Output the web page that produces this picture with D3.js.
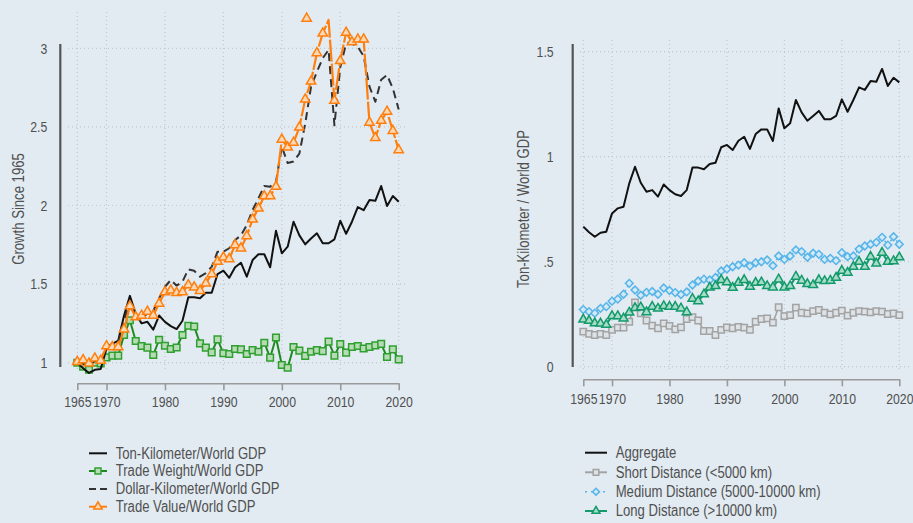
<!DOCTYPE html>
<html><head><meta charset="utf-8">
<script src="https://cdn.jsdelivr.net/npm/d3@7"></script>
<style>
html,body{margin:0;padding:0;background:#e2ebf2;}
svg{display:block;}
text{font-family:"Liberation Sans",Arial,sans-serif;fill:#505050;}
</style></head><body>
<svg id="c" width="913" height="523"></svg>
<script>
// ---------- DATA ----------
const years = d3.range(1965, 2021);
const xTickYears = [1965, 1970, 1980, 1990, 2000, 2010, 2020];

// Left panel: growth since 1965
const leftYTicks = [1, 1.5, 2, 2.5, 3];
const leftYTickLabels = ["1", "1.5", "2", "2.5", "3"];
const tonKm = [1.00,0.965,0.935,0.955,0.96,
  1.09,1.12,1.14,1.30,1.425,1.31,1.25,1.26,1.21,1.30,
  1.26,1.233,1.214,1.267,1.416,1.416,1.41,1.445,1.445,1.564,
  1.585,1.54,1.607,1.636,1.547,1.653,1.69,1.69,1.607,1.84,
  1.696,1.738,1.897,1.81,1.753,1.79,1.823,1.76,1.76,1.785,
  1.903,1.82,1.897,1.99,1.97,2.035,2.03,2.124,1.997,2.06,
  2.024];
const tradeWeight = [1.00,0.975,0.955,1.0,0.995,
  1.034,1.045,1.045,1.176,1.27,1.138,1.106,1.096,1.049,1.146,
  1.108,1.087,1.097,1.176,1.235,1.23,1.123,1.096,1.066,1.148,
  1.06,1.055,1.087,1.085,1.055,1.08,1.07,1.127,1.032,1.16,
  0.985,0.968,1.10,1.077,1.043,1.07,1.08,1.074,1.134,1.045,
  1.119,1.064,1.10,1.106,1.09,1.10,1.11,1.12,1.036,1.085,
  1.021];
const dollarKm = [1.0,0.99,0.985,1.01,1.01,
  1.10,1.12,1.13,1.27,1.39,1.30,1.29,1.31,1.33,1.41,
  1.483,1.526,1.49,1.515,1.594,1.585,1.547,1.57,1.61,1.706,
  1.706,1.728,1.78,1.81,1.876,1.971,2.046,2.124,2.12,2.15,
  2.374,2.27,2.28,2.33,2.52,2.756,2.85,2.937,2.99,2.51,
  2.88,3.03,3.03,3.01,2.95,2.756,2.66,2.80,2.83,2.745,
  2.61];
const tradeValue = [1.006,1.017,0.996,1.028,1.013,
  1.106,1.10,1.10,1.212,1.36,1.29,1.30,1.325,1.30,1.377,
  1.45,1.46,1.445,1.45,1.494,1.48,1.458,1.505,1.564,1.643,
  1.67,1.66,1.749,1.728,1.806,1.912,1.982,2.06,2.06,2.12,
  2.42,2.37,2.40,2.497,2.675,2.79,2.97,3.095,3.18,2.667,
  2.92,3.10,3.04,3.057,3.057,2.527,2.43,2.54,2.597,2.476,
  2.353];
const tradeValueNoMarker = [2008];
const tradeValueStray = [{year: 2004.25, value: 3.19}];

// Right panel: ton-km / world GDP by distance
const rightYTicks = [0, 0.5, 1, 1.5];
const rightYTickLabels = ["0", ".5", "1", "1.5"];
const aggregate = [0.667,0.64,0.619,0.638,0.643,
  0.73,0.754,0.762,0.873,0.952,0.876,0.833,0.841,0.81,0.868,
  0.841,0.821,0.813,0.841,0.948,0.948,0.94,0.965,0.971,1.045,
  1.056,1.032,1.076,1.095,1.037,1.108,1.13,1.13,1.075,1.23,
  1.135,1.159,1.27,1.211,1.171,1.194,1.218,1.178,1.178,1.194,
  1.273,1.214,1.27,1.33,1.318,1.36,1.357,1.418,1.337,1.376,
  1.354];
const shortDist = [0.167,0.156,0.151,0.156,0.151,
  0.175,0.186,0.186,0.214,0.306,0.254,0.22,0.196,0.183,0.206,
  0.194,0.178,0.187,0.227,0.236,0.22,0.17,0.17,0.151,0.175,
  0.187,0.183,0.19,0.186,0.175,0.214,0.227,0.23,0.21,0.283,
  0.241,0.246,0.281,0.257,0.254,0.265,0.27,0.257,0.249,0.257,
  0.267,0.243,0.257,0.265,0.262,0.259,0.265,0.262,0.251,0.254,
  0.246];
const mediumDist = [0.272,0.262,0.255,0.278,0.286,
  0.312,0.322,0.345,0.397,0.365,0.34,0.354,0.358,0.345,0.375,
  0.363,0.353,0.344,0.356,0.389,0.408,0.417,0.413,0.425,0.456,
  0.465,0.476,0.484,0.495,0.479,0.495,0.5,0.508,0.481,0.527,
  0.511,0.527,0.556,0.548,0.521,0.54,0.535,0.511,0.516,0.505,
  0.543,0.524,0.527,0.56,0.575,0.583,0.592,0.616,0.579,0.619,
  0.583];
const longDist = [0.225,0.219,0.207,0.206,0.2,
  0.242,0.241,0.23,0.258,0.28,0.283,0.26,0.286,0.277,0.289,
  0.286,0.286,0.278,0.26,0.324,0.312,0.345,0.377,0.384,0.413,
  0.402,0.376,0.40,0.413,0.381,0.40,0.402,0.384,0.378,0.416,
  0.378,0.384,0.429,0.41,0.394,0.389,0.413,0.408,0.41,0.424,
  0.457,0.448,0.476,0.5,0.476,0.524,0.492,0.543,0.5,0.503,
  0.521];
const longDistBreakBefore = 1984;

const leftLegend = ["Ton-Kilometer/World GDP","Trade Weight/World GDP","Dollar-Kilometer/World GDP","Trade Value/World GDP"];
const rightLegend = ["Aggregate","Short Distance (<5000 km)","Medium Distance (5000-10000 km)","Long Distance (>10000 km)"];

// ---------- STYLES ----------
const NARROW = 0.82;
const S = {
  tonKm:   {stroke:"#111", width:2, dash:null, sym:null},
  weight:  {stroke:"#1e8a1e", width:2, dash:null, sym:d3.symbolSquare, size:44, mStroke:"#2fa02f", mFill:"#b7dcb5"},
  dollar:  {stroke:"#333", width:2, dash:"8,5", sym:null},
  value:   {stroke:"#ff7f0e", width:2.2, dash:"22,2", sym:d3.symbolTriangle, size:38, mStroke:"#ff7f0e", mFill:"#fbd9b6"},
  agg:     {stroke:"#111", width:2, dash:null, sym:null},
  short:   {stroke:"#a3a3a3", width:1.6, dash:null, sym:d3.symbolSquare, size:40, mStroke:"#a3a3a3", mFill:"#dde2e6"},
  medium:  {stroke:"#56b4e9", width:1.5, dash:"2,3", sym:d3.symbolSquare, size:30, rot:45, mStroke:"#56b4e9", mFill:"#d2e9f6"},
  long:    {stroke:"#139a6c", width:2, dash:null, sym:d3.symbolTriangle, size:34, mStroke:"#139a6c", mFill:"#a8dcc6"}
};

const svg = d3.select("#c");
svg.append("rect").attr("width",913).attr("height",523).attr("fill","#e2ebf2");

function panel(o){
  const g = svg.append("g");
  const x = d3.scaleLinear().domain([1965,2020]).range(o.xRange);
  const y = d3.scaleLinear().domain(o.yDomain).range(o.yRange);
  // gridlines
  g.selectAll(".hg").data(o.yTicks).join("line")
    .attr("x1",o.gridX[0]).attr("x2",o.gridX[1])
    .attr("y1",d=>y(d)).attr("y2",d=>y(d))
    .attr("stroke","#bfc8d0").attr("stroke-width",1.2).attr("stroke-dasharray","1,3");
  g.selectAll(".vg").data(xTickYears).join("line")
    .attr("x1",d=>x(d)).attr("x2",d=>x(d))
    .attr("y1",o.gridY[0]).attr("y2",o.gridY[1])
    .attr("stroke","#bfc8d0").attr("stroke-width",1.2).attr("stroke-dasharray","1,3");
  // y axis
  g.append("line").attr("x1",o.yAxisX).attr("x2",o.yAxisX)
    .attr("y1",o.yAxisSpan[0]).attr("y2",o.yAxisSpan[1])
    .attr("stroke","#555").attr("stroke-width",2.2);
  const ya = g.append("g").attr("transform",`translate(${o.yAxisX},0)`)
    .call(d3.axisLeft(y).tickValues(o.yTicks).tickSize(0).tickPadding(o.yPad)
      .tickFormat((d,i)=>o.yLabels[i]));
  ya.select(".domain").remove();
  ya.selectAll("text").attr("font-size",15).attr("fill","#505050")
    .attr("x",-o.yPad/NARROW).attr("transform",`scale(${NARROW},1)`)
    .style("font-family",'"Liberation Sans",Arial,sans-serif');
  // x axis
  const xa = g.append("g").attr("transform",`translate(0,${o.xAxisY})`)
    .call(d3.axisBottom(x).tickValues(xTickYears).tickSize(7).tickSizeOuter(0).tickPadding(o.xPad).tickFormat(d3.format("d")));
  xa.select(".domain").attr("stroke","#9a9a9a").attr("stroke-width",1.6);
  xa.selectAll(".tick line").attr("stroke","#9a9a9a").attr("stroke-width",1.6);
  xa.selectAll("text").attr("font-size",15).attr("fill","#505050")
    .attr("transform",`scale(${NARROW},1)`)
    .style("font-family",'"Liberation Sans",Arial,sans-serif');
  // y title
  g.append("text").attr("transform",`translate(${o.titleX},${o.titleY}) rotate(-90) scale(${NARROW},1)`)
    .attr("text-anchor","middle").attr("dominant-baseline","middle")
    .attr("font-size",16).text(o.title);
  return {g,x,y};
}

function series(p, vals, st, opts={}){
  const pts = years.map((yr,i)=>({year:yr, value:vals[i]}));
  const line = d3.line().x(d=>p.x(d.year)).y(d=>p.y(d.value));
  const segs = opts.breakBefore ? [pts.filter(d=>d.year<opts.breakBefore), pts.filter(d=>d.year>=opts.breakBefore)] : [pts];
  segs.forEach(sg=>{
    p.g.append("path").datum(sg).attr("d",line).attr("fill","none")
      .attr("stroke",st.stroke).attr("stroke-width",st.width)
      .attr("stroke-linejoin","round")
      .attr("stroke-dasharray",st.dash);
  });
  if(st.sym){
    const sym = d3.symbol().type(st.sym).size(st.size);
    let mp = pts.filter(d=>!(opts.skip||[]).includes(d.year)).concat(opts.extra||[]);
    p.g.selectAll(null).data(mp).join("path")
      .attr("d",sym)
      .attr("transform",d=>`translate(${p.x(d.year)},${p.y(d.value)}) rotate(${st.rot||0})`)
      .attr("fill",st.mFill).attr("stroke",st.mStroke).attr("stroke-width",1.5);
  }
}

function legend(items, styles, x0, x1, tx, ys){
  items.forEach((label,i)=>{
    const st = styles[i], yy = ys[i];
    const g = svg.append("g");
    if(st.dash==="8,5"){
      g.append("line").attr("x1",x0).attr("x2",x0+7).attr("y1",yy).attr("y2",yy).attr("stroke",st.stroke).attr("stroke-width",2);
      g.append("line").attr("x1",x1-7).attr("x2",x1).attr("y1",yy).attr("y2",yy).attr("stroke",st.stroke).attr("stroke-width",2);
    } else if(st.dash==="2,3"){
      g.append("line").attr("x1",x0).attr("x2",x1).attr("y1",yy).attr("y2",yy).attr("stroke",st.stroke).attr("stroke-width",1.6).attr("stroke-dasharray","2,4");
    } else {
      g.append("line").attr("x1",x0).attr("x2",x1).attr("y1",yy).attr("y2",yy).attr("stroke",st.stroke).attr("stroke-width",2);
    }
    if(st.sym){
      g.append("path").attr("d",d3.symbol().type(st.sym).size(st.size*0.8))
        .attr("transform",`translate(${(x0+x1)/2},${yy}) rotate(${st.rot||0})`)
        .attr("fill",st.mFill).attr("stroke",st.mStroke).attr("stroke-width",1.5);
    }
    g.append("text").attr("transform",`translate(${tx},${yy}) scale(${NARROW},1)`)
      .attr("dominant-baseline","central")
      .attr("font-size",16).text(label);
  });
}

// ---------- LEFT ----------
const L = panel({xRange:[77.3,398.7], yDomain:[1,3], yRange:[362.7,48.3], yTicks:leftYTicks, yLabels:leftYTickLabels,
  gridX:[68,405], gridY:[12,370], yAxisX:60.3, yAxisSpan:[44,367], yPad:13, xAxisY:383.3, xPad:6,
  titleX:20, titleY:209, title:"Growth Since 1965"});
series(L, tradeWeight, S.weight);
series(L, tonKm, S.tonKm);
series(L, dollarKm, S.dollar);
series(L, tradeValue, S.value, {skip:tradeValueNoMarker, extra:tradeValueStray});

// ---------- RIGHT ----------
const R = panel({xRange:[583.3,899.3], yDomain:[0,1.5], yRange:[366.7,51.7], yTicks:rightYTicks, yLabels:rightYTickLabels,
  gridX:[580,911], gridY:[40,370], yAxisX:572.7, yAxisSpan:[44,367], yPad:19, xAxisY:379.3, xPad:7,
  titleX:525, titleY:209, title:"Ton-Kilometer / World GDP"});
series(R, aggregate, S.agg);
series(R, shortDist, S.short);
series(R, mediumDist, S.medium);
series(R, longDist, S.long, {breakBefore:longDistBreakBefore});

legend(leftLegend, [S.tonKm,S.weight,S.dollar,S.value], 89, 107, 115.7, [453.3,471,489,506.7]);
legend(rightLegend, [S.agg,S.short,S.medium,S.long], 585, 607, 615.7, [452.7,472.3,491.7,511]);
</script>
</body></html>
